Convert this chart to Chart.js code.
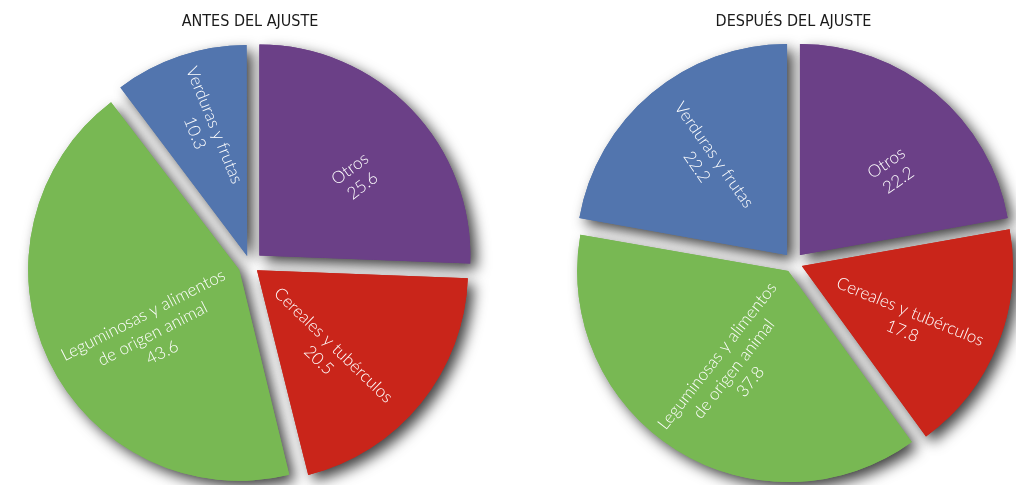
<!DOCTYPE html>
<html>
<head>
<meta charset="utf-8">
<script src="https://cdn.jsdelivr.net/npm/chart.js@4/dist/chart.umd.min.js"></script>
<style>
  body { margin: 0; background: #fff; }
  #wrap { display: flex; width: 1016px; height: 485px; }
  canvas { display: block; }
</style>
</head>
<body>
<div id="wrap">
  <canvas id="antes" width="508" height="485"></canvas>
  <canvas id="despues" width="508" height="485"></canvas>
</div>
<script>
const categories = [['Otros'], ['Cereales y tubérculos'], ['Leguminosas y alimentos', 'de origen animal'], ['Verduras y frutas']];
const antesValues = [25.6, 20.5, 43.6, 10.3];
const despuesValues = [22.2, 17.8, 37.8, 22.2];
const titles = ['ANTES DEL AJUSTE', 'DESPUÉS DEL AJUSTE'];

const colors = ['#6b4087', '#c9251a', '#78b853', '#5275ae'];

// Chart.js grows wide exploded slices a bit; keep every slice the same radius
const evenRadius = {
    id: 'evenRadius',
    afterDatasetUpdate(chart) {
        chart.getDatasetMeta(0).data.forEach(arc => {
            const fix = 1 - Math.sin(Math.min(Math.PI, arc.circumference));
            arc.outerRadius -= (arc.options.offset / 4) * fix;
        });
    },
};

// shadows first, so the slices drawn after them sit on top
const sliceShadow = {
    id: 'sliceShadow',
    beforeDatasetsDraw(chart) {
        const ctx = chart.ctx;
        ctx.save();
        ctx.shadowColor = 'rgba(0,0,0,0.75)';
        ctx.shadowBlur = 14;
        ctx.shadowOffsetX = 6;
        ctx.shadowOffsetY = 6;
        chart.getDatasetMeta(0).data.forEach(arc => arc.draw(ctx));
        ctx.restore();
    },
};

const sliceLabels = {
    id: 'sliceLabels',
    afterDatasetsDraw(chart, args, opts) {
        const ctx = chart.ctx;
        const values = chart.data.datasets[0].data;
        ctx.save();
        ctx.fillStyle = '#fff';
        ctx.font = '300 17px Lato';
        ctx.textAlign = 'center';
        ctx.textBaseline = 'middle';
        chart.getDatasetMeta(0).data.forEach((arc, i) => {
            const { x, y, startAngle, endAngle } =
                arc.getProps(['x', 'y', 'startAngle', 'endAngle'], true);
            const mid = (startAngle + endAngle) / 2;
            const off = arc.options.offset / 4;
            const cx = x + Math.cos(mid) * off;
            const cy = y + Math.sin(mid) * off;
            const a = mid + opts.turn[i] * Math.PI / 180;
            const r = 211 * opts.dist[i];
            const lines = [...chart.data.labels[i], values[i].toFixed(1)];
            ctx.save();
            ctx.translate(cx + Math.cos(a) * r, cy + Math.sin(a) * r);
            ctx.rotate(opts.angles[i] * Math.PI / 180);
            lines.forEach((t, k) => ctx.fillText(t, 0, (k - (lines.length - 1) / 2) * 21));
            ctx.restore();
        });
        ctx.restore();
    },
};

function makePie(id, values, title, offsets, padding, labelOpts) {
    new Chart(document.getElementById(id), {
        type: 'pie',
        data: {
            labels: categories,
            datasets: [{
                data: values,
                backgroundColor: colors,
                borderWidth: 0,
                offset: offsets,
            }],
        },
        options: {
            responsive: false,
            animation: false,
            radius: 211,
            layout: { padding },
            plugins: {
                legend: { display: false },
                tooltip: { enabled: false },
                title: {
                    display: true,
                    text: title,
                    color: '#1a1a1a',
                    font: { family: "'DejaVu Sans Condensed', 'Liberation Sans', sans-serif", size: 16, weight: 'normal' },
                    padding: { top: 12, bottom: 13 },
                },
                sliceLabels: labelOpts,
            },
        },
        plugins: [evenRadius, sliceShadow, sliceLabels],
    });
}

makePie('antes', antesValues, titles[0], [52, 36, 48, 36],
    { left: 0, right: 8, top: 0, bottom: 0 },
    { angles: [-37, 44, -27, 68], dist: [0.59, 0.51, 0.51, 0.635], turn: [5, 11, -11, 0] });

makePie('despues', despuesValues, titles[1], [40, 36, 40, 40],
    { left: 63, right: 0, top: 0, bottom: 4 },
    { angles: [-35, 22, -52, 55], dist: [0.59, 0.56, 0.53, 0.59], turn: [8, 6, -3, -1] });
</script>
</body>
</html>
